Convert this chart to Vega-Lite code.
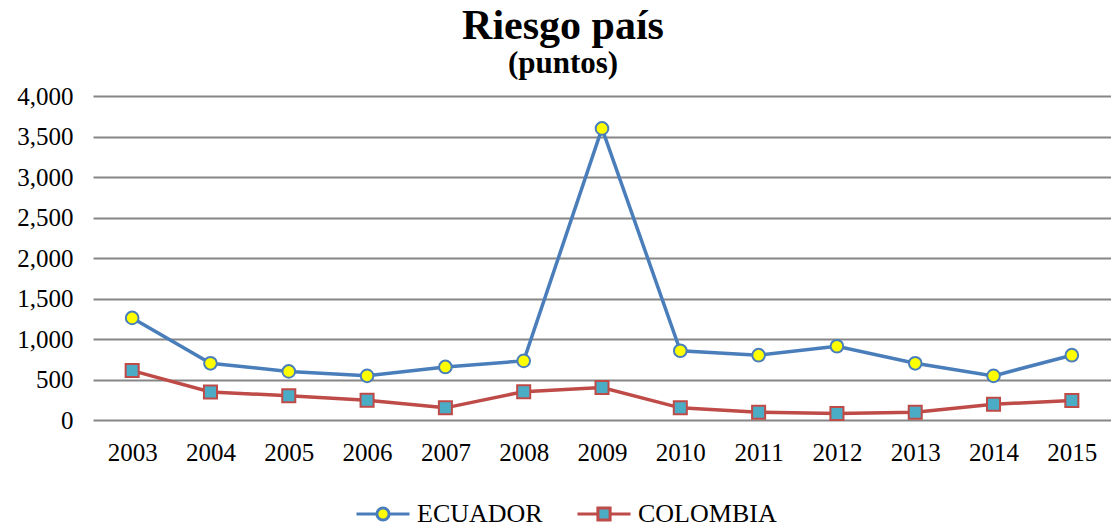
{
  "$schema": "https://vega.github.io/schema/vega-lite/v6.json",
  "autosize": "none",
  "width": 1018,
  "height": 324,
  "padding": {"left": 93, "top": 96, "right": 0, "bottom": 107},
  "background": "white",
  "title": {
    "text": "Riesgo país",
    "subtitle": "(puntos)",
    "anchor": "middle",
    "frame": "group",
    "dx": -39,
    "offset": 4,
    "font": "Liberation Serif",
    "fontSize": 42,
    "fontWeight": "bold",
    "color": "black",
    "subtitleFont": "Liberation Serif",
    "subtitleFontSize": 31,
    "subtitleFontWeight": "bold",
    "subtitleColor": "black",
    "subtitlePadding": 1
  },
  "config": {
    "view": {"stroke": null},
    "font": "Liberation Serif"
  },
  "data": {
    "values": [
      {"year": "2003", "country": "ECUADOR", "value": 1260},
      {"year": "2004", "country": "ECUADOR", "value": 700},
      {"year": "2005", "country": "ECUADOR", "value": 600},
      {"year": "2006", "country": "ECUADOR", "value": 545},
      {"year": "2007", "country": "ECUADOR", "value": 655},
      {"year": "2008", "country": "ECUADOR", "value": 730},
      {"year": "2009", "country": "ECUADOR", "value": 3600},
      {"year": "2010", "country": "ECUADOR", "value": 855},
      {"year": "2011", "country": "ECUADOR", "value": 800},
      {"year": "2012", "country": "ECUADOR", "value": 910},
      {"year": "2013", "country": "ECUADOR", "value": 700},
      {"year": "2014", "country": "ECUADOR", "value": 545},
      {"year": "2015", "country": "ECUADOR", "value": 800},
      {"year": "2003", "country": "COLOMBIA", "value": 610},
      {"year": "2004", "country": "COLOMBIA", "value": 345},
      {"year": "2005", "country": "COLOMBIA", "value": 300},
      {"year": "2006", "country": "COLOMBIA", "value": 245},
      {"year": "2007", "country": "COLOMBIA", "value": 150},
      {"year": "2008", "country": "COLOMBIA", "value": 350},
      {"year": "2009", "country": "COLOMBIA", "value": 400},
      {"year": "2010", "country": "COLOMBIA", "value": 150},
      {"year": "2011", "country": "COLOMBIA", "value": 95},
      {"year": "2012", "country": "COLOMBIA", "value": 80},
      {"year": "2013", "country": "COLOMBIA", "value": 95},
      {"year": "2014", "country": "COLOMBIA", "value": 195},
      {"year": "2015", "country": "COLOMBIA", "value": 240}
    ]
  },
  "encoding": {
    "x": {
      "field": "year",
      "type": "ordinal",
      "scale": {"type": "point", "padding": 0.5},
      "axis": {
        "title": null,
        "labelAngle": 0,
        "labelFont": "Liberation Serif",
        "labelFontSize": 25,
        "labelColor": "black",
        "labelPadding": 20,
        "ticks": false,
        "domain": false,
        "grid": false
      }
    },
    "y": {
      "field": "value",
      "type": "quantitative",
      "scale": {"domain": [0, 4000], "nice": false},
      "axis": {
        "title": null,
        "values": [0, 500, 1000, 1500, 2000, 2500, 3000, 3500, 4000],
        "format": ",.0f",
        "labelFont": "Liberation Serif",
        "labelFontSize": 25,
        "labelColor": "black",
        "labelPadding": 20,
        "ticks": false,
        "domain": false,
        "grid": true,
        "gridColor": "#868686",
        "gridWidth": 2
      }
    }
  },
  "layer": [
    {
      "mark": {"type": "line", "strokeWidth": 3.5},
      "encoding": {
        "color": {
          "field": "country",
          "type": "nominal",
          "scale": {"domain": ["ECUADOR", "COLOMBIA"], "range": ["#4a7ebb", "#be4b48"]},
          "legend": {
            "orient": "none",
            "legendX": 262,
            "legendY": 390,
            "direction": "horizontal",
            "title": null,
            "labelFont": "Liberation Serif",
            "labelFontSize": 26,
            "labelColor": "black",
            "labelOffset": 6,
            "columnPadding": 28,
            "symbolSize": 2809,
            "symbolStrokeWidth": 3,
            "symbolType": "M-1,0 H1",
            "encode": {
              "symbols": {
                "update": {
                  "shape": {"signal": "datum.value === 'ECUADOR' ? 'M-1,0 H-0.23 M0.23,0 H1 M-0.23,0 A0.23,0.23 0 1 1 0.23,0 A0.23,0.23 0 1 1 -0.23,0 Z' : 'M-1,0 H-0.23 M0.23,0 H1 M-0.23,-0.23 H0.23 V0.23 H-0.23 Z'"},
                  "fill": {"signal": "datum.value === 'ECUADOR' ? '#ffff00' : '#4bacc6'"},
                  "fillOpacity": {"value": 1},
                  "stroke": {"signal": "datum.value === 'ECUADOR' ? '#4a7ebb' : '#be4b48'"},
                  "strokeWidth": {"value": 3},
                  "opacity": {"value": 1}
                }
              }
            }
          }
        }
      }
    },
    {
      "transform": [{"filter": "datum.country === 'ECUADOR'"}],
      "mark": {"type": "point", "shape": "circle", "filled": true, "fill": "#ffff00", "stroke": "#4a7ebb", "strokeWidth": 2, "opacity": 1, "fillOpacity": 1, "size": 160}
    },
    {
      "transform": [{"filter": "datum.country === 'COLOMBIA'"}],
      "mark": {"type": "point", "shape": "square", "filled": true, "fill": "#4bacc6", "stroke": "#be4b48", "strokeWidth": 2, "opacity": 1, "fillOpacity": 1, "size": 170}
    }
  ]
}
